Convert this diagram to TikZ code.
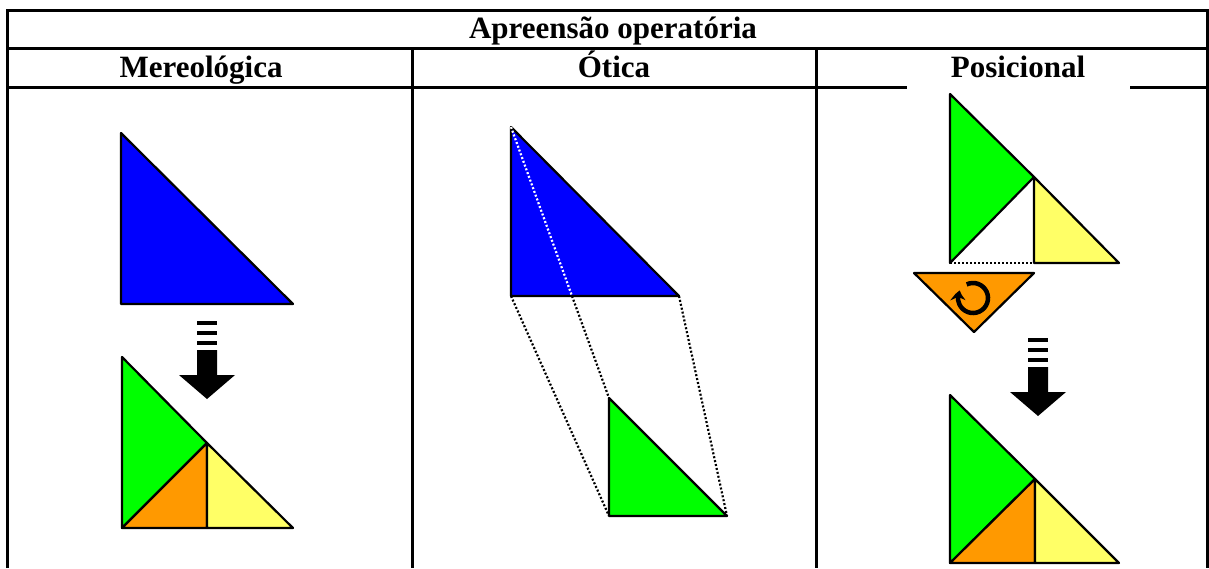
\documentclass[tikz,border=0pt]{standalone}
\usepackage{fontspec}
\setmainfont{Liberation Serif}
\usetikzlibrary{arrows.meta,bending,calc}
\definecolor{azul}{RGB}{0,0,255}
\definecolor{verde}{RGB}{0,255,0}
\definecolor{laranja}{RGB}{255,153,0}
\definecolor{amarelo}{RGB}{255,255,102}
\tikzset{
  grade/.style={line width=3pt},
  titulo/.style={font=\bfseries\fontsize{31}{31}\selectfont, anchor=base},
  peca/.style={draw=black, line width=2.2pt, line join=round},
  projecao/.style={line width=2.2pt, dash pattern=on 2pt off 2pt},
  pics/seta/.style={code={
    \fill (-10,-78) rectangle (10,-74);
    \fill (-10,-68) rectangle (10,-64);
    \fill (-10,-58) rectangle (10,-54);
    \fill (-10,-49) -- (10,-49) -- (10,-24) -- (28,-24) -- (0,0) -- (-28,-24) -- (-10,-24) -- cycle;
  }}
}
\begin{document}
\begin{tikzpicture}[x=1pt, y=-1pt]
\useasboundingbox (0,0) rectangle (1209,568);
% tabela
\draw[grade] (7,568) -- (7,10) -- (1207,10) -- (1207,568);
\draw[grade] (7,48) -- (1207,48);
\draw[grade] (7,87) -- (1207,87);
\draw[grade] (412,48) -- (412,568);
\draw[grade] (816,48) -- (816,568);
\fill[white] (907,84) rectangle (1130,91);
\node[titulo] (cab) at (613,38) {Apreensão operatória};
\node[titulo] (mer) at (201,77) {Mereológica};
\node[titulo] (oti) at (614,77) {Ótica};
\node[titulo] (pos) at (1018,77) {Posicional};
% mereologica
\filldraw[peca, fill=azul] (121,133) -- (121,304) -- (293,304) -- cycle;
\pic at (207,399) {seta};
\filldraw[peca, fill=verde] (122,357) -- (207,443) -- (122,528) -- cycle;
\filldraw[peca, fill=laranja] (122,528) -- (207,443) -- (207,528) -- cycle;
\filldraw[peca, fill=amarelo] (207,443) -- (293,528) -- (207,528) -- cycle;
% otica
\coordinate (b1) at (511,127);
\coordinate (b2) at (511,296);
\coordinate (b3) at (679,296);
\coordinate (bm) at (572,296);
\coordinate (g1) at (609,398);
\coordinate (g2) at (609,516);
\coordinate (g3) at (727,516);
\filldraw[peca, fill=azul] (b1) -- (b2) -- (b3) -- cycle;
\draw[projecao, white] (b1) -- (bm);
\filldraw[peca, fill=verde] (g1) -- (g2) -- (g3) -- cycle;
\draw[projecao] (b2) -- (g2);
\draw[projecao] (bm) -- (g1);
\draw[projecao] (b3) -- (g3);
% posicional
\filldraw[peca, fill=verde] (950,94) -- (1034,177) -- (950,263) -- cycle;
\filldraw[peca, fill=amarelo] (1034,177) -- (1119,263) -- (1034,263) -- cycle;
\draw[projecao] (950,263) -- (1034,263);
\filldraw[peca, fill=laranja] (914,273) -- (1034,273) -- (974,332) -- cycle;
\draw[line width=4.5pt, -{Stealth[length=10pt, width=15pt, bend]}] ($(973,298)+(-115:15)$) arc[start angle=-115, end angle=210, radius=15];
\pic at (1038,416) {seta};
\filldraw[peca, fill=verde] (950,395) -- (1035,479) -- (950,563) -- cycle;
\filldraw[peca, fill=laranja] (950,563) -- (1035,479) -- (1035,563) -- cycle;
\filldraw[peca, fill=amarelo] (1035,479) -- (1119,563) -- (1035,563) -- cycle;
\end{tikzpicture}
\end{document}
